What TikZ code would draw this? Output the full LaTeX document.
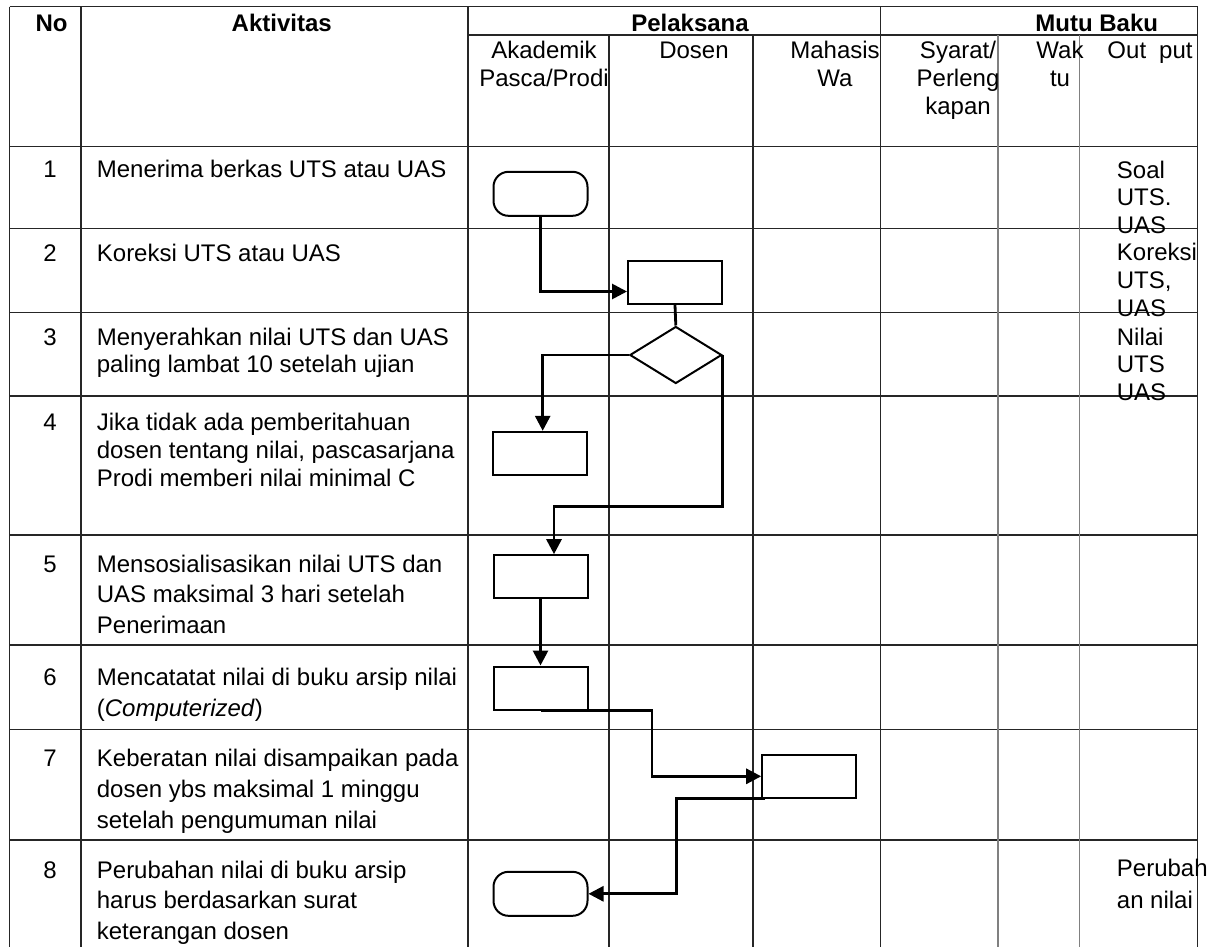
\documentclass[tikz,border=0pt]{standalone}
\usepackage{fontspec}
\setmainfont{Liberation Sans}
\usetikzlibrary{arrows.meta,shapes.geometric}
\begin{document}
\begin{tikzpicture}[x=1pt,y=-1pt,
  gridline/.style={line width=1.1pt,black!85},
  gridlight/.style={line width=1.1pt,black!50},
  body/.style={inner sep=0pt,anchor=base west,align=left},
  num/.style={inner sep=0pt,anchor=base},
  head/.style={inner sep=0pt,anchor=base,align=center},
  proc/.style={draw,line width=2pt,minimum width=94pt,minimum height=43pt,inner sep=0pt},
  term/.style={proc,rounded corners=15pt,minimum height=44pt},
  dec/.style={draw,line width=2pt,diamond,minimum width=92pt,minimum height=57pt,inner sep=0pt},
  flow/.style={line width=2.8pt},
  arr/.style={flow,-{Triangle[length=15pt,width=15pt]}},
  font=\fontsize{24}{28}\selectfont
]
\useasboundingbox (0,0) rectangle (1213,947);

% ---------------- grid ----------------
\draw[gridline] (9.5,6.7) -- (1197.5,6.7);
\draw[gridline] (468,35) -- (1197.5,35);
\foreach \y in {146.7,228.5,312.5,396,535,645,729.3,840}
  \draw[gridline] (9.5,\y) -- (1197.5,\y);
\foreach \x in {9.5,81,468,880.5,1197.5}
  \draw[gridline] (\x,6.7) -- (\x,947);
\foreach \x in {609,753}
  \draw[gridline] (\x,35) -- (\x,947);
\foreach \x in {998,1079.5}
  \draw[gridlight] (\x,35) -- (\x,947);

% ---------------- header ----------------
% (multi-line nodes: anchor=base is the baseline of the LAST line)
\node[num,font=\fontsize{24}{28}\selectfont\bfseries] (hNo) at (51.6,31.7) {No};
\node[num,font=\fontsize{24}{28}\selectfont\bfseries] (hAkt) at (281.7,31.7) {Aktivitas};
\node[num,font=\fontsize{24}{28}\selectfont\bfseries] (hPel) at (690,31.7) {Pelaksana};
\node[num,font=\fontsize{24}{28}\selectfont\bfseries] (hMutu) at (1096.7,31.7) {Mutu Baku};

\node[head,font=\fontsize{24}{28.4}\selectfont] (hAkad) at (544,86.7) {Akademik\\Pasca/Prodi};
\node[head] (hDos) at (694,58.3) {Dosen};
\node[head,font=\fontsize{24}{28.4}\selectfont] (hMhs) at (835,86.7) {Mahasis\\Wa};
\node[head,font=\fontsize{24}{28.4}\selectfont] (hSyar) at (958,115) {Syarat/\\Perleng\\kapan};
\node[head,font=\fontsize{24}{28.4}\selectfont] (hWak) at (1060,86.7) {Wak\\tu};
\node[head] (hOut) at (1150,58.3) {Out\hspace{13pt}put};

% ---------------- rows ----------------
\node[num] (n1) at (50,177.7) {1};
\node[body] (a1) at (96.7,177.7) {Menerima berkas UTS atau UAS};
\node[num] (n2) at (50,261) {2};
\node[body] (a2) at (96.7,261) {Koreksi UTS atau UAS};
\node[num] (n3) at (50,345.3) {3};
\node[body,font=\fontsize{24}{27.4}\selectfont] (a3) at (96.7,372.7) {Menyerahkan nilai UTS dan UAS\\paling lambat 10 setelah ujian};
\node[num] (n4) at (50,430) {4};
\node[body,font=\fontsize{24}{28.3}\selectfont] (a4) at (96.7,486.6) {Jika tidak ada pemberitahuan\\dosen tentang nilai, pascasarjana\\Prodi memberi nilai minimal C};
\node[num] (n5) at (50,572.7) {5};
\node[body,font=\fontsize{24}{30.2}\selectfont] (a5) at (96.7,633.1) {Mensosialisasikan nilai UTS dan\\UAS maksimal 3 hari setelah\\Penerimaan};
\node[num] (n6) at (50,685) {6};
\node[body,font=\fontsize{24}{31}\selectfont] (a6) at (96.7,716) {Mencatatat nilai di buku arsip nilai\\(\textit{Computerized})};
\node[num] (n7) at (50,766.7) {7};
\node[body,font=\fontsize{24}{30.8}\selectfont] (a7) at (96.7,828.3) {Keberatan nilai disampaikan pada\\dosen ybs maksimal 1 minggu\\setelah pengumuman nilai};
\node[num] (n8) at (50,878.3) {8};
\node[body,font=\fontsize{24}{30.5}\selectfont] (a8) at (96.7,939.3) {Perubahan nilai di buku arsip\\harus berdasarkan surat\\keterangan dosen};

% ---------------- output column ----------------
\node[body,font=\fontsize{24}{27.5}\selectfont] (o1) at (1116.7,233.3) {Soal\\UTS.\\UAS};
\node[body,font=\fontsize{24}{28.3}\selectfont] (o2) at (1116.7,316.6) {Koreksi\\UTS,\\UAS};
\node[body,font=\fontsize{24}{27.5}\selectfont] (o3) at (1116.7,400) {Nilai\\UTS\\UAS};
\node[body,font=\fontsize{24}{31.6}\selectfont] (o8) at (1116.7,908.3) {Perubah\\an nilai};

% ---------------- flowchart ----------------
\node[term] (t1) at (540.5,193.8) {};
\node[proc] (r2) at (675,282.5) {};
\node[dec] (d3) at (675.8,355) {};
\node[proc] (r4) at (539.7,453.3) {};
\node[proc] (r5) at (540.5,576.7) {};
\node[proc] (r6) at (540.5,688) {};
\node[proc] (r7) at (809.2,776.3) {};
\node[term] (t8) at (540.5,893.8) {};

\coordinate (b1) at (722,506.7);
\coordinate (b2) at (652,700);
\coordinate (b3) at (676.7,800);

\draw[arr] (t1.south) |- ([yshift=-9pt]r2.west);
\draw[flow] (r2.south) -- (d3.north);
\draw[arr] (d3.west) -| ([xshift=3pt]r4.north);
\draw[arr] (d3.east) -- (d3.east |- b1) -| ([xshift=13.5pt]r5.north);
\draw[arr] (r5.south) -- (r6.north);
\draw[arr] (r6.south) -- (b2 |- r6.south) |- (r7.west);
\draw[arr] ([xshift=4pt]r7.south west) -- (b3 |- r7.south west) |- (t8.east);
\end{tikzpicture}
\end{document}
